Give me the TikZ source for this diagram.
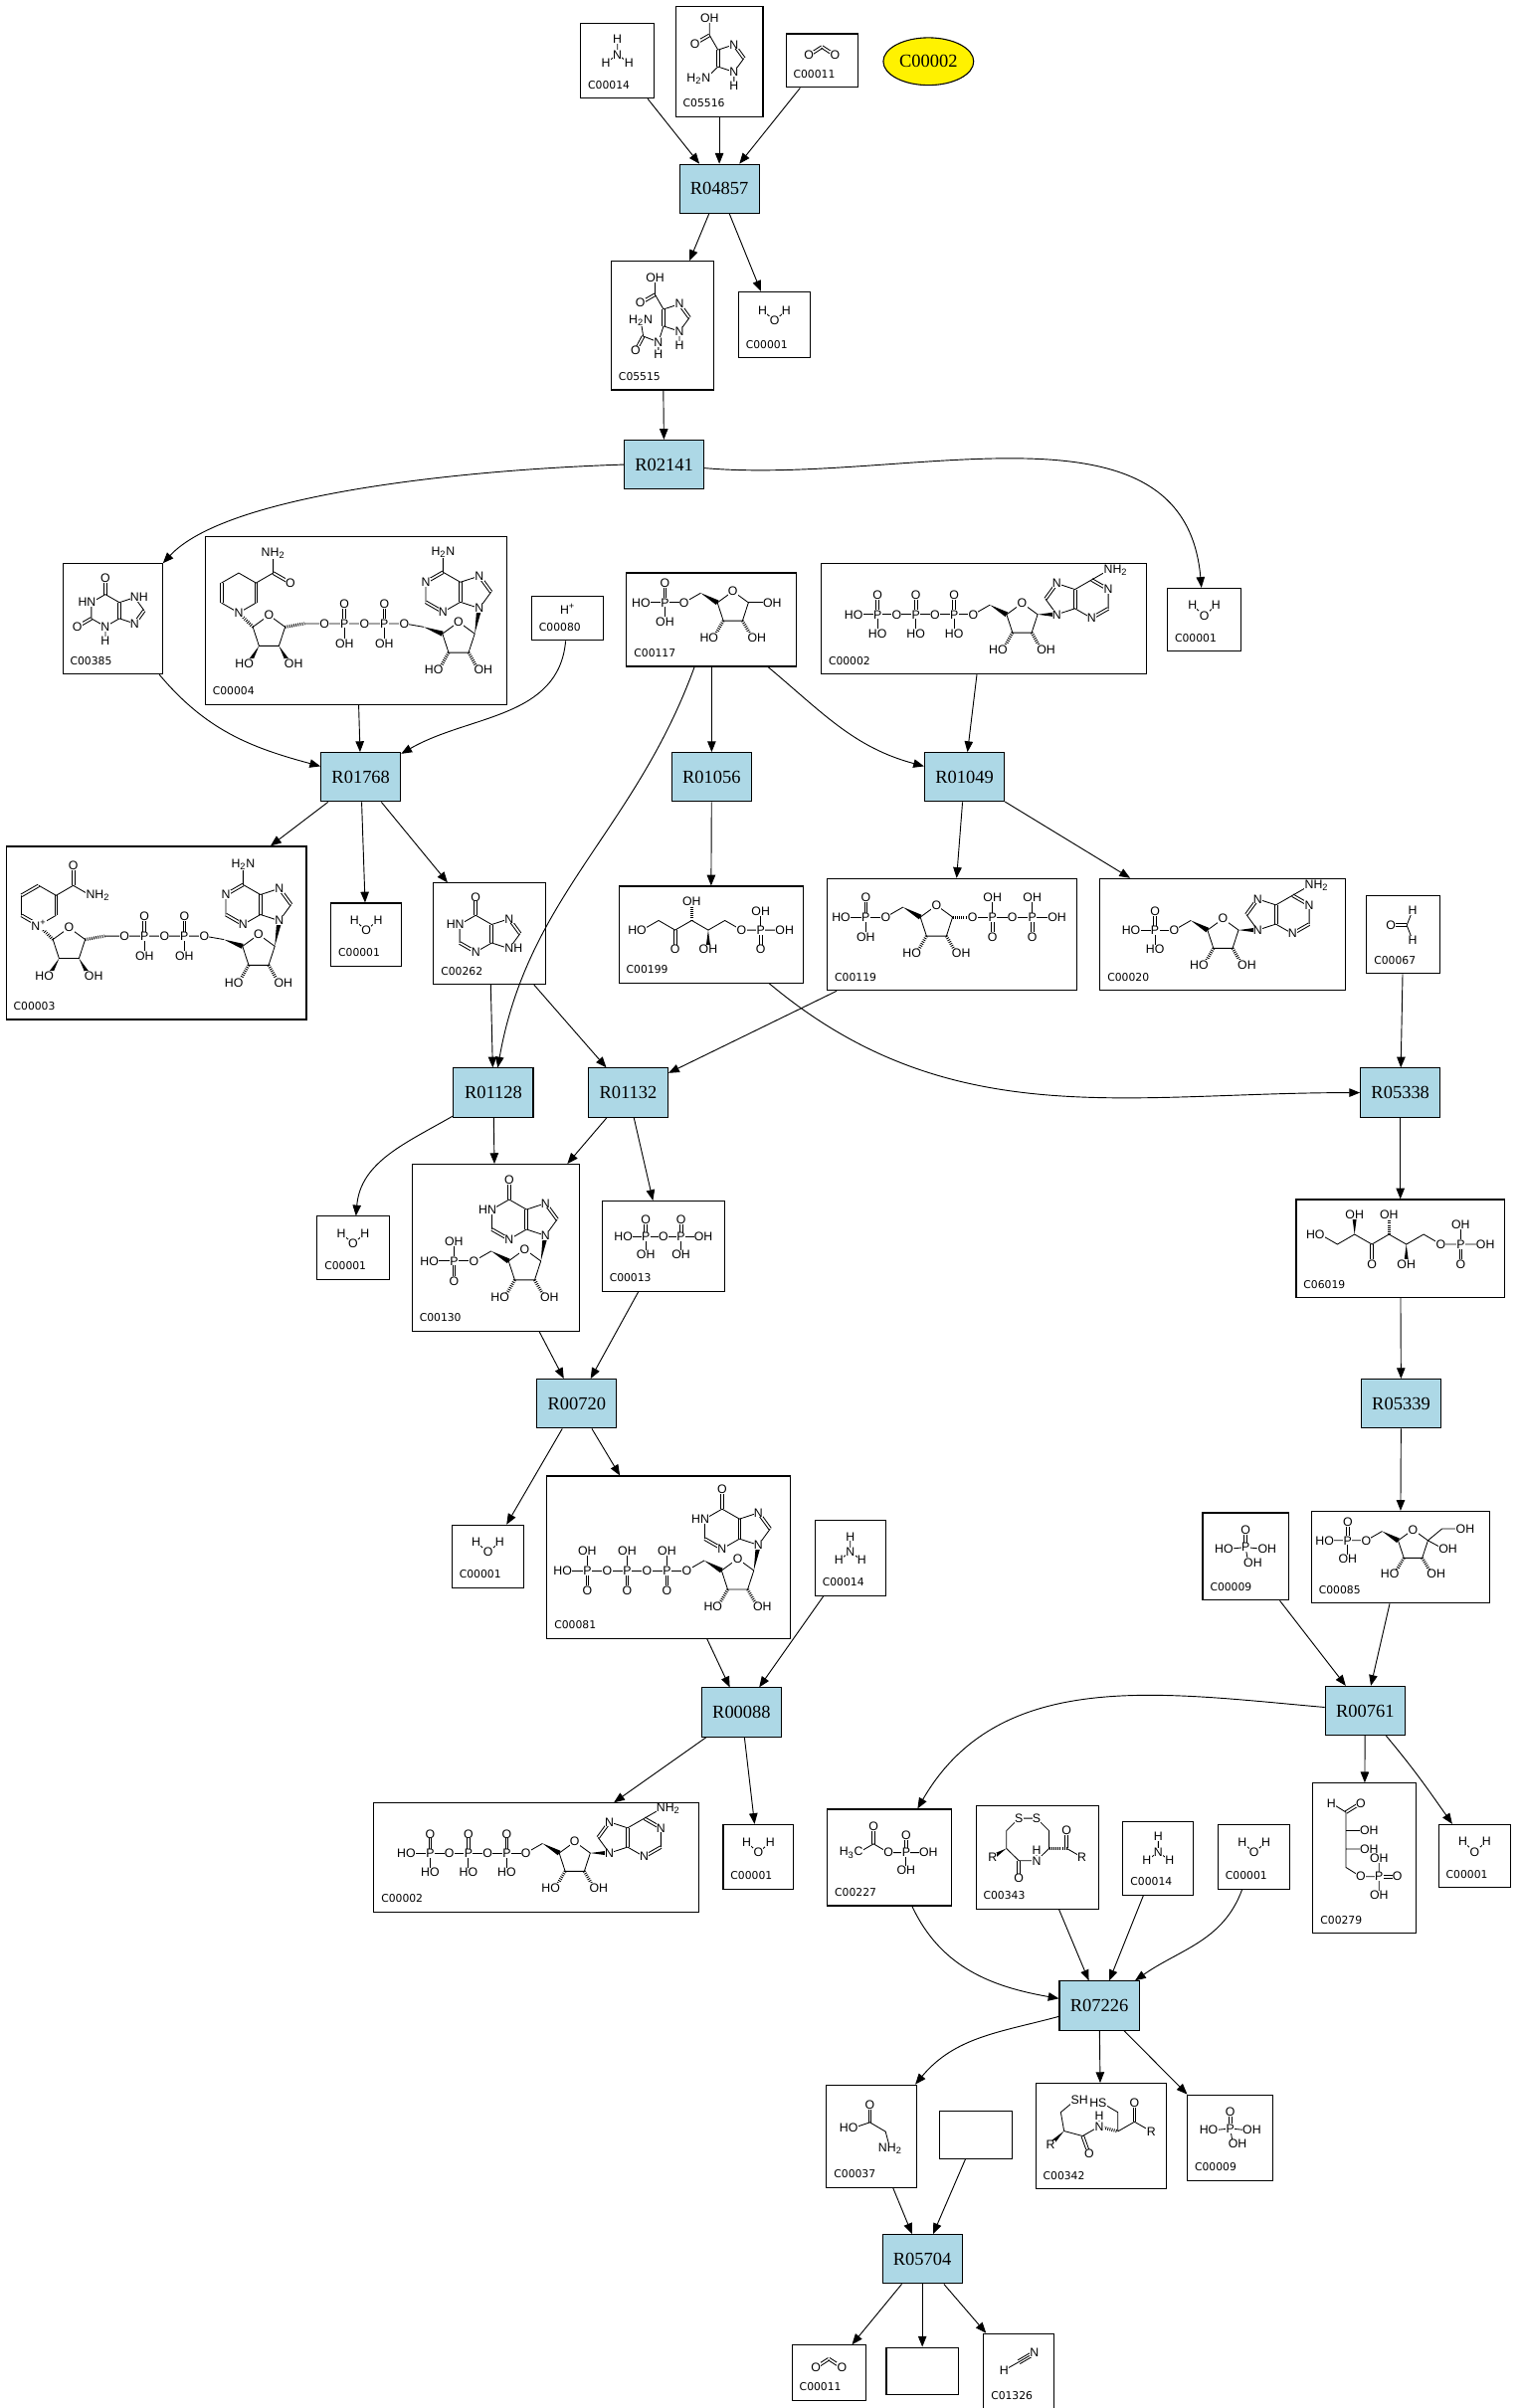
\documentclass[tikz,border=0pt]{standalone}
\usepackage{fontspec}
\setmainfont{Liberation Serif}
\setsansfont{Liberation Sans}
\newfontfamily\idfont{DejaVu Sans}
\usetikzlibrary{arrows.meta,calc,shapes.geometric}

\definecolor{rxnblue}{RGB}{173,216,230}

\tikzset{
  rxn/.style={draw, line width=0.7pt, fill=rxnblue, minimum width=52pt, minimum height=32pt, inner sep=0pt, font=\fontsize{12}{12}\selectfont},
  cbox/.style={draw, line width=0.7pt, inner sep=0pt},
  cid/.style={inner sep=0pt, anchor=base west, font=\idfont\fontsize{7}{7}\selectfont},
  link/.style={line width=0.6pt, -{Triangle[length=7pt,width=5.5pt]}},
  bd/.style={line width=0.55pt},
  hsh/.style={line width=2pt, dash pattern=on 0.55pt off 0.85pt},
  atm/.style={fill=white, inner sep=0.2pt, font=\sffamily\fontsize{8}{8}\selectfont},
  al/.style={atm, anchor=east, xshift=3.3pt},
  ar/.style={atm, anchor=west, xshift=-3.3pt},
}

% compound box: name, x, y, width, height, id, structure
\newcommand{\cpd}[7]{
\node[cbox, minimum width=#4pt, minimum height=#5pt] (#1) at (#2,#3) {};
\node[cid] (#1-id) at ($(#1.south west)+(5,6.5)$) {#6};
\coordinate (#1-mol) at ($(#1.center)+(0,6)$);
#7{#1-mol}
}

% pieces of structures
\newcommand{\dbl}[3][0.9pt]{\draw[bd] ($(#2)!#1!90:(#3)$) -- ($(#3)!#1!-90:(#2)$) ($(#2)!#1!-90:(#3)$) -- ($(#3)!#1!90:(#2)$);}
\newcommand{\wdg}[2]{\fill (#1) -- ($(#2)!1.7pt!90:(#1)$) -- ($(#2)!1.7pt!-90:(#1)$) -- cycle;}
\newcommand{\phosU}[2]{\begin{scope}[shift={(#1)}]\dbl{0,0}{0,1} \draw[bd] (0,0) -- (0,-1);
\node[atm] at (0,1) {O}; \node[atm] at (0,-1) {#2}; \node[atm] at (0,0) {P};\end{scope}}
\newcommand{\phosD}[2]{\begin{scope}[shift={(#1)}]\draw[bd] (0,0) -- (0,1); \dbl{0,0}{0,-1}
\node[atm] at (0,1) {#2}; \node[atm] at (0,-1) {O}; \node[atm] at (0,0) {P};\end{scope}}
\newcommand{\ribcore}{%
\draw[bd] (0,0) -- (0.81,0.59) -- (1.62,0) -- (1.31,-0.95) -- (0.31,-0.95) -- cycle;
\draw[hsh] (0.31,-0.95) -- (-0.19,-1.82) (1.31,-0.95) -- (1.81,-1.82);
\draw[bd] (-0.87,0.5) -- (-1.74,0); \wdg{-0.87,0.5}{0,0}
\node[atm] at (0.81,0.59) {O}; \node[al] at (-0.19,-1.82) {HO};
\node[ar] at (1.81,-1.82) {OH}; \node[atm] at (-1.74,0) {O};}
\newcommand{\adeR}{%
\wdg{1.62,0}{2.62,0}
\draw[bd] (2.62,0) -- (3.57,0.31) (3.57,1.31) -- (2.62,1.62) (2.03,0.81) -- (2.62,0) (3.57,0.31) -- (4.44,-0.19) (5.31,0.31) -- (5.31,1.31) (4.44,1.81) -- (3.57,1.31) (4.44,1.81) -- (5.31,2.31);
\dbl{3.57,0.31}{3.57,1.31} \dbl{2.62,1.62}{2.03,0.81} \dbl{4.44,-0.19}{5.31,0.31} \dbl{5.31,1.31}{4.44,1.81}
\node[atm] at (2.62,0) {N}; \node[atm] at (2.62,1.62) {N}; \node[atm] at (4.44,-0.19) {N}; \node[atm] at (5.31,1.31) {N};
\node[ar] at (5.31,2.31) {NH\textsubscript{2}};}
\newcommand{\adeL}{%
\draw[bd] (0,0) -- (-0.95,0.31) (-0.95,1.31) -- (0,1.62) (0.59,0.81) -- (0,0) (-0.95,0.31) -- (-1.82,-0.19) (-2.69,0.31) -- (-2.69,1.31) (-1.82,1.81) -- (-0.95,1.31) (-1.82,1.81) -- (-1.82,2.81);
\dbl{-0.95,0.31}{-0.95,1.31} \dbl{0,1.62}{0.59,0.81} \dbl{-1.82,-0.19}{-2.69,0.31} \dbl{-2.69,1.31}{-1.82,1.81}
\node[atm] at (0,0) {N}; \node[atm] at (0,1.62) {N}; \node[atm] at (-1.82,-0.19) {N}; \node[atm] at (-2.69,1.31) {N};
\node[atm] at (-1.82,2.81) {H\textsubscript{2}N};}
\newcommand{\hypoL}{%
\draw[bd] (0,0) -- (-0.95,0.31) (-0.95,1.31) -- (0,1.62) (0.59,0.81) -- (0,0) (-0.95,0.31) -- (-1.82,-0.19) (-2.69,0.31) -- (-2.69,1.31) -- (-1.82,1.81) -- (-0.95,1.31);
\dbl{-0.95,0.31}{-0.95,1.31} \dbl{0,1.62}{0.59,0.81} \dbl{-1.82,-0.19}{-2.69,0.31} \dbl{-1.82,1.81}{-1.82,2.81}
\node[atm] at (0,0) {N}; \node[atm] at (0,1.62) {N}; \node[atm] at (-1.82,-0.19) {N}; \node[al] at (-2.69,1.31) {HN};
\node[atm] at (-1.82,2.81) {O};}
\newcommand{\nadtail}{%
\draw[bd] (0.71,-0.71) -- (1.52,-0.12) -- (2.33,-0.71) -- (2.02,-1.66) -- (1.02,-1.66) -- (0.71,-0.71);
\draw[hsh] (0,0) -- (0.71,-0.71);
\wdg{2.02,-1.66}{2.52,-2.53} \wdg{1.02,-1.66}{0.52,-2.53}
\draw[bd] (3.31,-0.54) -- (8.31,-0.54) -- (9.29,-0.71); \draw[hsh] (2.33,-0.71) -- (3.31,-0.54);
\wdg{9.29,-0.71}{10.23,-1.05}
\draw[bd] (10.23,-1.05) -- (11.04,-0.46) -- (11.85,-1.05) -- (11.54,-2.0) -- (10.54,-2.0) -- (10.23,-1.05);
\draw[hsh] (11.54,-2.0) -- (12.04,-2.87) (10.54,-2.0) -- (10.04,-2.87);
\wdg{11.85,-1.05}{12.08,0.23}
\node[atm] at (1.52,-0.12) {O}; \node[ar] at (2.52,-2.53) {OH}; \node[al] at (0.52,-2.53) {HO};
\node[atm] at (4.31,-0.54) {O}; \node[atm] at (6.31,-0.54) {O}; \node[atm] at (8.31,-0.54) {O};
\phosU{5.31,-0.54}{OH} \phosU{7.31,-0.54}{OH}
\node[atm] at (11.04,-0.46) {O}; \node[ar] at (12.04,-2.87) {OH}; \node[al] at (10.04,-2.87) {HO};
\begin{scope}[shift={(12.08,0.23)}]\adeL\end{scope}}

% structures
\newcommand{\mWater}[1]{\begin{scope}[shift={(#1)},x=11pt,y=11pt]
\draw[bd] (-0.7,0.3) -- (0,-0.3) -- (0.7,0.3);
\node[atm] at (-0.7,0.3) {H}; \node[atm] at (0,-0.3) {O}; \node[atm] at (0.7,0.3) {H};
\end{scope}}
\newcommand{\mAmmonia}[1]{\begin{scope}[shift={(#1)},x=10pt,y=10pt,shift={(0,-0.2)}]
\draw[bd] (0,1) -- (0,0) (-0.75,-0.55) -- (0,0) -- (0.75,-0.55);
\node[atm] at (0,1) {H}; \node[atm] at (0,0) {N}; \node[atm] at (-0.75,-0.55) {H}; \node[atm] at (0.75,-0.55) {H};
\end{scope}}
\newcommand{\mCOtwo}[1]{\begin{scope}[shift={(#1)},x=10pt,y=10pt]
\dbl{-0.85,-0.25}{0,0.3} \dbl{0,0.3}{0.85,-0.25}
\node[atm] at (-0.85,-0.25) {O}; \node[atm] at (0.85,-0.25) {O};
\end{scope}}
\newcommand{\mProton}[1]{\node[atm] at (#1) {H\textsuperscript{+}};}
\newcommand{\mFormal}[1]{\begin{scope}[shift={(#1)},x=11pt,y=11pt]
\dbl{-0.75,0}{0.2,0} \draw[bd] (0.55,0.9) -- (0.2,0) -- (0.55,-0.9);
\node[atm] at (-0.75,0) {O}; \node[atm] at (0.55,0.9) {H}; \node[atm] at (0.55,-0.9) {H};
\end{scope}}
\newcommand{\mHCN}[1]{\begin{scope}[shift={(#1)},x=12pt,y=12pt]
\draw[bd] (-0.8,-0.45) -- (0,0); \dbl[1.4pt]{0,0}{0.85,0.5} \draw[bd] (0,0) -- (0.85,0.5);
\node[atm] at (-0.8,-0.45) {H}; \node[atm] at (0.85,0.5) {N};
\end{scope}}
\newcommand{\mPhos}[1]{\begin{scope}[shift={(#1)},x=11pt,y=11pt]
\dbl{0,0}{0,1} \draw[bd] (-1,-0.1) -- (0,0) -- (1,-0.1) (0,0) -- (0.15,-0.9);
\node[atm] at (0,1) {O}; \node[al] at (-1,-0.1) {HO}; \node[ar] at (1,-0.1) {OH}; \node[ar] at (0.15,-0.9) {OH}; \node[atm] at (0,0) {P};
\end{scope}}
\newcommand{\mDiphos}[1]{\begin{scope}[shift={(#1)},x=11.5pt,y=11.5pt]
\draw[bd] (-2,0) -- (2,0);
\phosU{-1,0}{OH} \phosU{1,0}{OH}
\node[al] at (-2,0) {HO}; \node[atm] at (0,0) {O}; \node[ar] at (2,0) {OH};
\end{scope}}
\newcommand{\mGly}[1]{\begin{scope}[shift={(#1)},x=12pt,y=12pt,shift={(-0.1,0.25)}]
\draw[bd] (-0.9,-0.3) -- (0,0) -- (0.85,-0.5) -- (1.1,-1.45); \dbl{0,0}{0,0.95}
\node[al] at (-0.9,-0.3) {HO}; \node[atm] at (0,0.95) {O}; \node[atm] at (1.1,-1.45) {NH\textsubscript{2}};
\end{scope}}
\newcommand{\mAcP}[1]{\begin{scope}[shift={(#1)},x=11.5pt,y=11.5pt,shift={(-0.05,0.25)}]
\draw[bd] (-1.7,-0.5) -- (-0.85,0) -- (0,-0.5) -- (2,-0.5); \dbl{-0.85,0}{-0.85,1}
\phosU{1,-0.5}{OH}
\node[al] at (-1.7,-0.5) {H\textsubscript{3}C}; \node[atm] at (-0.85,1) {O}; \node[atm] at (0,-0.5) {O}; \node[ar] at (2,-0.5) {OH};
\end{scope}}
\newcommand{\mEryP}[1]{\begin{scope}[shift={(#1)},x=12pt,y=12pt,shift={(-1,0)}]
\draw[bd] (-0.8,2.5) -- (0,2) -- (0,-1) -- (0.8,-1.5) -- (1.8,-1.5) -- (1.8,-0.5) (1.8,-1.5) -- (1.8,-2.5) (0,1) -- (1,1) (0,0) -- (1,0);
\dbl{0,2}{0.8,2.5} \dbl{1.8,-1.5}{2.8,-1.5}
\node[atm] at (-0.8,2.5) {H}; \node[atm] at (0.8,2.5) {O}; \node[ar] at (1,1) {OH}; \node[ar] at (1,0) {OH};
\node[atm] at (0.8,-1.5) {O}; \node[atm] at (1.8,-1.5) {P}; \node[atm] at (1.8,-0.5) {OH}; \node[atm] at (2.8,-1.5) {O}; \node[atm] at (1.8,-2.5) {OH};
\end{scope}}
\newcommand{\mXan}[1]{\begin{scope}[shift={(#1)},x=10.5pt,y=10.5pt,shift={(-0.45,-0.05)}]
\draw[bd] (0,1) -- (-0.87,0.5) -- (-0.87,-0.5) -- (0,-1) -- (0.87,-0.5) (0.87,0.5) -- (0,1) (0.87,0.5) -- (1.82,0.81) -- (2.41,0) (1.82,-0.81) -- (0.87,-0.5) (0,-1) -- (0,-1.9);
\dbl{0,1}{0,2} \dbl{-0.87,-0.5}{-1.74,-1} \dbl{0.87,-0.5}{0.87,0.5} \dbl{2.41,0}{1.82,-0.81}
\node[atm] at (0,2) {O}; \node[atm] at (-1.74,-1) {O}; \node[al] at (-0.87,0.5) {HN}; \node[atm] at (0,-1) {N};
\node[atm] at (0,-1.9) {H}; \node[ar] at (1.82,0.81) {NH}; \node[atm] at (1.82,-0.81) {N};
\end{scope}}
\newcommand{\mHypox}[1]{\begin{scope}[shift={(#1)},x=12pt,y=12pt,shift={(-0.75,-0.5)}]
\draw[bd] (0,1) -- (-0.87,0.5) -- (-0.87,-0.5) (0,-1) -- (0.87,-0.5) (0.87,0.5) -- (0,1) (0.87,0.5) -- (1.82,0.81) (2.41,0) -- (1.82,-0.81) -- (0.87,-0.5);
\dbl{0,1}{0,2} \dbl{-0.87,-0.5}{0,-1} \dbl{0.87,-0.5}{0.87,0.5} \dbl{1.82,0.81}{2.41,0}
\node[atm] at (0,2) {O}; \node[al] at (-0.87,0.5) {HN}; \node[atm] at (0,-1) {N};
\node[atm] at (1.82,0.81) {N}; \node[ar] at (1.82,-0.81) {NH};
\end{scope}}
\newcommand{\mAIC}[1]{\begin{scope}[shift={(#1)},x=11pt,y=11pt,shift={(-0.08,-0.36)}]
\draw[bd] (0,0.5) -- (0.95,0.81) (1.54,0) -- (0.95,-0.81) -- (0,-0.5) (0.95,-0.81) -- (0.95,-1.65) (0,-0.5) -- (-0.71,-1.21) (0,0.5) -- (-0.5,1.37) -- (-0.5,2.37);
\dbl{0,0.5}{0,-0.5} \dbl{0.95,0.81}{1.54,0} \dbl{-0.5,1.37}{-1.37,0.87}
\node[atm] at (0.95,0.81) {N}; \node[atm] at (0.95,-0.81) {N}; \node[atm] at (0.95,-1.65) {H};
\node[al] at (-0.71,-1.21) {H\textsubscript{2}N}; \node[atm] at (-1.37,0.87) {O}; \node[atm] at (-0.5,2.37) {OH};
\end{scope}}
\newcommand{\mAICU}[1]{\begin{scope}[shift={(#1)},x=11pt,y=11pt,shift={(0.05,-0.08)}]
\draw[bd] (0,0.5) -- (0.95,0.81) (1.54,0) -- (0.95,-0.81) -- (0,-0.5) (0.95,-0.81) -- (0.95,-1.65) (0,0.5) -- (-0.5,1.37) -- (-0.5,2.37);
\draw[bd] (0,-0.5) -- (-0.3,-1.45) -- (-1.2,-1.1) -- (-1.35,-0.15) (-0.3,-1.45) -- (-0.3,-2.2);
\dbl{0,0.5}{0,-0.5} \dbl{0.95,0.81}{1.54,0} \dbl{-0.5,1.37}{-1.37,0.87} \dbl{-1.2,-1.1}{-1.65,-1.95}
\node[atm] at (0.95,0.81) {N}; \node[atm] at (0.95,-0.81) {N}; \node[atm] at (0.95,-1.65) {H};
\node[atm] at (-1.37,0.87) {O}; \node[atm] at (-0.5,2.37) {OH};
\node[atm] at (-0.3,-1.45) {N}; \node[atm] at (-0.3,-2.2) {H}; \node[atm] at (-1.35,-0.15) {H\textsubscript{2}N}; \node[atm] at (-1.65,-1.95) {O};
\end{scope}}
\newcommand{\mRibP}[1]{\begin{scope}[shift={(#1)},x=12.5pt,y=12.5pt,shift={(0.3,0.41)}]
\draw[bd] (-1.74,0) -- (-3.74,0) (1.62,0) -- (2.62,0);
\ribcore \phosU{-2.74,0}{OH}
\node[al] at (-3.74,0) {HO}; \node[ar] at (2.62,0) {OH};
\end{scope}}
\newcommand{\mPRPP}[1]{\begin{scope}[shift={(#1)},x=13pt,y=13pt,shift={(-1.6,0.41)}]
\draw[bd] (-1.74,0) -- (-3.74,0) (2.62,0) -- (6.62,0); \draw[hsh] (1.62,0) -- (2.62,0);
\ribcore \phosU{-2.74,0}{OH} \phosD{3.62,0}{OH} \phosD{5.62,0}{OH}
\node[al] at (-3.74,0) {HO}; \node[atm] at (2.62,0) {O}; \node[atm] at (4.62,0) {O}; \node[ar] at (6.62,0) {OH};
\end{scope}}
\newcommand{\mAMP}[1]{\begin{scope}[shift={(#1)},x=12.5pt,y=12.5pt,shift={(-0.79,-0.25)}]
\draw[bd] (-1.74,0) -- (-3.74,0);
\ribcore \phosU{-2.74,0}{HO} \adeR
\node[al] at (-3.74,0) {HO};
\end{scope}}
\newcommand{\mATP}[1]{\begin{scope}[shift={(#1)},x=12.5pt,y=12.5pt,shift={(1.2,-0.25)}]
\draw[bd] (-1.74,0) -- (-7.74,0);
\ribcore \phosU{-2.74,0}{HO} \phosU{-4.74,0}{HO} \phosU{-6.74,0}{HO} \adeR
\node[atm] at (-3.74,0) {O}; \node[atm] at (-5.74,0) {O}; \node[al] at (-7.74,0) {HO};
\end{scope}}
\newcommand{\mFruP}[1]{\begin{scope}[shift={(#1)},x=12pt,y=12pt,shift={(-0.12,0.41)}]
\draw[bd] (-1.74,0) -- (-3.74,0) (1.62,0) -- (2.39,0.64) -- (3.39,0.64) (1.62,0) -- (2.45,-0.45);
\ribcore \phosU{-2.74,0}{OH}
\node[al] at (-3.74,0) {HO}; \node[ar] at (3.39,0.64) {OH}; \node[ar] at (2.45,-0.45) {OH};
\end{scope}}
\newcommand{\mIMP}[1]{\begin{scope}[shift={(#1)},x=13pt,y=13pt,shift={(0.65,-1.13)}]
\draw[bd] (-1.74,0) -- (-3.74,0); \wdg{1.62,0}{1.85,1.28}
\ribcore \phosD{-2.74,0}{OH}
\node[al] at (-3.74,0) {HO};
\begin{scope}[shift={(1.85,1.28)}]\hypoL\end{scope}
\end{scope}}
\newcommand{\mITP}[1]{\begin{scope}[shift={(#1)},x=13pt,y=13pt,shift={(2.65,-1.13)}]
\draw[bd] (-1.74,0) -- (-7.74,0); \wdg{1.62,0}{1.85,1.28}
\ribcore \phosD{-2.74,0}{OH} \phosD{-4.74,0}{OH} \phosD{-6.74,0}{OH}
\node[atm] at (-3.74,0) {O}; \node[atm] at (-5.74,0) {O}; \node[al] at (-7.74,0) {HO};
\begin{scope}[shift={(1.85,1.28)}]\hypoL\end{scope}
\end{scope}}
\newcommand{\mRuP}[1]{\begin{scope}[shift={(#1)},x=12.5pt,y=12.5pt,shift={(-3.6,-0.25)}]
\draw[bd] (0,0) -- (0.87,0.5) -- (1.73,0) -- (2.6,0.5) -- (3.46,0) -- (4.33,0.5) -- (5.2,0) -- (7.2,0);
\draw[hsh] (2.6,0.5) -- (2.6,1.5); \wdg{3.46,0}{3.46,-1}
\dbl{1.73,0}{1.73,-1}
\phosD{6.2,0}{OH}
\node[al] at (0,0) {HO}; \node[atm] at (1.73,-1) {O}; \node[atm] at (2.6,1.5) {OH}; \node[atm] at (3.46,-1) {OH};
\node[atm] at (5.2,0) {O}; \node[ar] at (7.2,0) {OH};
\end{scope}}
\newcommand{\mHexP}[1]{\begin{scope}[shift={(#1)},x=13pt,y=13pt,shift={(-4.03,-0.25)}]
\draw[bd] (0,0.5) -- (0.87,0) -- (1.73,0.5) -- (2.6,0) -- (3.46,0.5) -- (4.33,0) -- (5.2,0.5) -- (6.06,0) -- (8.06,0);
\wdg{1.73,0.5}{1.73,1.5} \draw[hsh] (3.46,0.5) -- (3.46,1.5); \wdg{4.33,0}{4.33,-1}
\dbl{2.6,0}{2.6,-1}
\phosD{7.06,0}{OH}
\node[al] at (0,0.5) {HO}; \node[atm] at (1.73,1.5) {OH}; \node[atm] at (2.6,-1) {O}; \node[atm] at (3.46,1.5) {OH};
\node[atm] at (4.33,-1) {OH}; \node[atm] at (6.06,0) {O}; \node[ar] at (8.06,0) {OH};
\end{scope}}
\newcommand{\mNADH}[1]{\begin{scope}[shift={(#1)},x=13pt,y=13pt,shift={(-5.9,-0.08)}]
\draw[bd] (0,0) -- (-0.87,0.5) (-0.87,1.5) -- (0,2) -- (0.87,1.5) (0.87,0.5) -- (0,0) (0.87,1.5) -- (1.73,2) -- (1.73,3);
\dbl{-0.87,0.5}{-0.87,1.5} \dbl{0.87,1.5}{0.87,0.5} \dbl{1.73,2}{2.6,1.5}
\nadtail
\node[atm] at (0,0) {N}; \node[atm] at (2.6,1.5) {O}; \node[atm] at (1.73,3) {NH\textsubscript{2}};
\end{scope}}
\newcommand{\mNAD}[1]{\begin{scope}[shift={(#1)},x=13pt,y=13pt,shift={(-5.9,-0.08)}]
\draw[bd] (-0.87,0.5) -- (-0.87,1.5) (0,2) -- (0.87,1.5) (0.87,0.5) -- (0,0) (0.87,1.5) -- (1.73,2) -- (2.6,1.5);
\dbl{0,0}{-0.87,0.5} \dbl{-0.87,1.5}{0,2} \dbl{0.87,1.5}{0.87,0.5} \dbl{1.73,2}{1.73,3}
\nadtail
\node[atm] at (0,0) {N\textsuperscript{+}}; \node[atm] at (1.73,3) {O}; \node[ar] at (2.6,1.5) {NH\textsubscript{2}};
\end{scope}}
\newcommand{\mTrxS}[1]{\begin{scope}[shift={(#1)},x=11.5pt,y=11.5pt,shift={(-1.04,1.7)}]
\draw[bd] (0,0) -- (1,0) -- (1.71,-0.71) -- (1.71,-1.71) -- (1,-2.41) -- (0,-2.41) -- (-0.71,-1.71) -- (-0.71,-0.71) -- cycle;
\draw[bd] (2.71,-1.71) -- (3.58,-2.21) (1,-2.41) -- (1,-1.8); \draw[hsh] (1.71,-1.71) -- (2.71,-1.71); \wdg{-0.71,-1.71}{-1.5,-2.2}
\dbl{2.71,-1.71}{2.71,-0.71} \dbl{0,-2.41}{0,-3.41}
\node[atm] at (0,0) {S}; \node[atm] at (1,0) {S}; \node[atm] at (1,-2.41) {N}; \node[atm] at (1,-1.8) {H};
\node[atm] at (2.71,-0.71) {O}; \node[atm] at (3.58,-2.21) {R}; \node[atm] at (0,-3.41) {O}; \node[atm] at (-1.5,-2.2) {R};
\end{scope}}
\newcommand{\mTrxH}[1]{\begin{scope}[shift={(#1)},x=12.5pt,y=12.5pt,shift={(-2.63,-0.92)}]
\draw[bd] (0.71,0.71) -- (0.54,1.69) -- (1.31,2.33) (0.71,0.71) -- (1.68,0.45) -- (2.55,0.95) (3.52,0.69) -- (4.39,1.19) -- (5.26,0.69) (2.55,0.95) -- (2.55,1.5) (3.52,0.69) -- (3.52,1.69) -- (2.7,2.17);
\wdg{0.71,0.71}{0,0} \draw[hsh] (2.55,0.95) -- (3.52,0.69);
\dbl{1.68,0.45}{2.02,-0.49} \dbl{4.39,1.19}{4.39,2.19}
\node[atm] at (0,0) {R}; \node[ar] at (1.31,2.33) {SH}; \node[atm] at (2.02,-0.49) {O}; \node[atm] at (2.55,0.95) {N};
\node[atm] at (2.55,1.5) {H}; \node[al] at (2.7,2.17) {HS}; \node[atm] at (4.39,2.19) {O}; \node[atm] at (5.26,0.69) {R};
\end{scope}}

\begin{document}
\begin{tikzpicture}[x=1pt,y=1.0025pt]
\useasboundingbox (0,0) rectangle (993,-1568);

% reactions
\node[rxn] (r04857) at (469.5,-123) {R04857};
\node[rxn] (r02141) at (433.5,-302.5) {R02141};
\node[rxn] (r01768) at (235.5,-506) {R01768};
\node[rxn] (r01056) at (464.5,-506) {R01056};
\node[rxn] (r01049) at (629.5,-506) {R01049};
\node[rxn] (r01128) at (322,-711.5) {R01128};
\node[rxn] (r01132) at (410,-711.5) {R01132};
\node[rxn] (r05338) at (914,-711.5) {R05338};
\node[rxn] (r00720) at (376.5,-914) {R00720};
\node[rxn] (r05339) at (914.5,-914) {R05339};
\node[rxn] (r00088) at (484,-1115) {R00088};
\node[rxn] (r00761) at (891,-1114) {R00761};
\node[rxn] (r07226) at (717.5,-1306) {R07226};
\node[rxn] (r05704) at (602,-1471) {R05704};

\node[draw, ellipse, fill=yellow, line width=0.7pt, minimum width=59pt, minimum height=31pt, inner sep=0pt, font=\fontsize{12}{12}\selectfont] (c00002a) at (606,-40) {C00002};

% compounds
\cpd{c00014a}{403}{-39.5}{48}{49}{C00014}{\mAmmonia}
\cpd{c05516}{469.5}{-40}{57}{72}{C05516}{\mAIC}
\cpd{c00011a}{536.5}{-39.5}{47}{35}{C00011}{\mCOtwo}
\cpd{c05515}{432.5}{-212}{67}{84}{C05515}{\mAICU}
\cpd{c00001a}{505.5}{-211.5}{47}{43}{C00001}{\mWater}

\cpd{c00385}{73.5}{-403}{65}{72}{C00385}{\mXan}
\cpd{c00004}{232.5}{-404}{197}{110}{C00004}{\mNADH}
\cpd{c00080}{370.5}{-402.5}{47}{29}{C00080}{\mProton}
\cpd{c00117}{464.5}{-403.5}{111}{61}{C00117}{\mRibP}
\cpd{c00002b}{642}{-403}{212}{72}{C00002}{\mATP}
\cpd{c00001b}{786}{-403.5}{48}{41}{C00001}{\mWater}

\cpd{c00003}{102}{-607.5}{196}{113}{C00003}{\mNAD}
\cpd{c00001c}{239}{-608.5}{46}{41}{C00001}{\mWater}
\cpd{c00262}{319.5}{-608}{73}{66}{C00262}{\mHypox}
\cpd{c00199}{464}{-608.5}{120}{63}{C00199}{\mRuP}
\cpd{c00119}{621.5}{-608.5}{163}{73}{C00119}{\mPRPP}
\cpd{c00020}{798}{-608.5}{160}{73}{C00020}{\mAMP}
\cpd{c00067}{916}{-608.5}{48}{51}{C00067}{\mFormal}

\cpd{c00001d}{230.5}{-812.5}{47}{41}{C00001}{\mWater}
\cpd{c00130}{323.5}{-812.5}{109}{109}{C00130}{\mIMP}
\cpd{c00013}{433}{-811.5}{80}{59}{C00013}{\mDiphos}
\cpd{c06019}{914}{-813}{136}{64}{C06019}{\mHexP}

\cpd{c00001e}{318.5}{-1013.5}{47}{41}{C00001}{\mWater}
\cpd{c00081}{436.5}{-1014}{159}{106}{C00081}{\mITP}
\cpd{c00014b}{555}{-1014.5}{46}{49}{C00014}{\mAmmonia}
\cpd{c00009a}{813}{-1013.5}{56}{57}{C00009}{\mPhos}
\cpd{c00085}{914}{-1014}{116}{60}{C00085}{\mFruP}

\cpd{c00002c}{350}{-1209.5}{212}{71}{C00002}{\mATP}
\cpd{c00001f}{495}{-1209}{46}{42}{C00001}{\mWater}
\cpd{c00227}{580.5}{-1209.5}{81}{63}{C00227}{\mAcP}
\cpd{c00343}{677}{-1209.5}{80}{67}{C00343}{\mTrxS}
\cpd{c00014c}{756}{-1210}{46}{48}{C00014}{\mAmmonia}
\cpd{c00001g}{818.5}{-1209}{47}{42}{C00001}{\mWater}
\cpd{c00279}{890.5}{-1210}{67}{98}{C00279}{\mEryP}
\cpd{c00001h}{962.5}{-1208.5}{47}{41}{C00001}{\mWater}

\cpd{c00037}{569}{-1391}{59}{67}{C00037}{\mGly}
\node[cbox, minimum width=47pt, minimum height=31pt] (blanka) at (637,-1390) {};
\cpd{c00342}{718.5}{-1391}{85}{69}{C00342}{\mTrxH}
\cpd{c00009b}{803}{-1392}{56}{56}{C00009}{\mPhos}

\cpd{c00011b}{541}{-1545}{48}{36}{C00011}{\mCOtwo}
\node[cbox, minimum width=47pt, minimum height=31pt] (blankb) at (602,-1544) {};
\cpd{c01326}{665}{-1544}{46}{49}{C01326}{\mHCN}

% connectors
\draw[link] (c00014a) -- (r04857);
\draw[link] (c05516) -- (r04857);
\draw[link] (c00011a) -- (r04857);
\draw[link] (r04857) -- (c05515);
\draw[link] (r04857) -- (c00001a);
\draw[link] (c05515) -- (r02141);
\draw[link] (r02141.west) .. controls (300,-306) and (148,-322) .. (c00385.north east);
\draw[link] (r02141) to[out=-5,in=95] (c00001b);

\draw[link] (c00385) to[out=-50,in=165] (r01768);
\draw[link] (c00004) -- (r01768);
\draw[link] (c00080) to[out=-95,in=30] (r01768);
\draw[link] (c00117) -- (r01056);
\draw[link] (c00117) to[out=-40,in=165] (r01049);
\draw[link] (c00117) to[out=-110,in=80] (r01128);
\draw[link] (c00002b) -- (r01049);

\draw[link] (r01768) -- (c00003);
\draw[link] (r01768) -- (c00001c);
\draw[link] (r01768) -- (c00262);
\draw[link] (r01056) -- (c00199);
\draw[link] (r01049) -- (c00119);
\draw[link] (r01049) -- (c00020);

\draw[link] (c00262) -- (r01128);
\draw[link] (c00262) -- (r01132);
\draw[link] (c00119) -- (r01132);
\draw[link] (c00199) to[out=-40,in=180] (r05338);
\draw[link] (c00067) -- (r05338);

\draw[link] (r01128) to[out=-150,in=85] (c00001d);
\draw[link] (r01128) -- (c00130);
\draw[link] (r01132) -- (c00130);
\draw[link] (r01132) -- (c00013);
\draw[link] (r05338) -- (c06019);

\draw[link] (c00130) -- (r00720);
\draw[link] (c00013) -- (r00720);
\draw[link] (c06019) -- (r05339);
\draw[link] (r00720) -- (c00001e);
\draw[link] (r00720) -- (c00081);
\draw[link] (r05339) -- (c00085);

\draw[link] (c00081) -- (r00088);
\draw[link] (c00014b) -- (r00088);
\draw[link] (c00009a) -- (r00761);
\draw[link] (c00085) -- (r00761);
\draw[link] (r00088) -- (c00002c);
\draw[link] (r00088) -- (c00001f);
\draw[link] (r00761) to[out=175,in=60] (c00227);
\draw[link] (r00761) -- (c00279);
\draw[link] (r00761) to[out=-50,in=125] (c00001h);

\draw[link] (c00227) to[out=-65,in=170] (r07226);
\draw[link] (c00343) -- (r07226);
\draw[link] (c00014c) -- (r07226);
\draw[link] (c00001g) to[out=-110,in=35] (r07226);
\draw[link] (r07226) to[out=195,in=50] (c00037);
\draw[link] (r07226) -- (c00342);
\draw[link] (r07226) -- (c00009b);

\draw[link] (c00037) -- (r05704);
\draw[link] (blanka) -- (r05704);
\draw[link] (r05704) -- (c00011b);
\draw[link] (r05704) -- (blankb);
\draw[link] (r05704) -- (c01326);
\end{tikzpicture}
\end{document}
